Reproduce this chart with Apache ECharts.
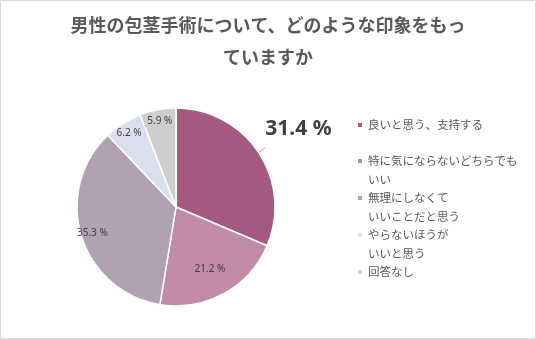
<!DOCTYPE html>
<html>
<head>
<meta charset="utf-8">
<script src="https://cdn.jsdelivr.net/npm/echarts@6/dist/echarts.min.js"></script>
<style>
html,body{margin:0;padding:0;background:#fff;}
#chart{width:536px;height:339px;}
</style>
</head>
<body>
<div id="chart"></div>
<script>
const titleText = '男性の包茎手術について、どのような印象をもっ\nていますか';
const categories = ['良いと思う、支持する', '特に気にならないどちらでも\nいい', '無理にしなくて\nいいことだと思う', 'やらないほうが\nいいと思う', '回答なし'];
const values = [31.4, 21.2, 35.3, 6.2, 5.9];
const colors = ['#A55882', '#C08AA8', '#B2A1B2', '#D9DFEF', '#CFCECF'];

const FONT = '"Noto Sans CJK JP", "Noto Sans", sans-serif';
const LATIN = '"Noto Sans", "Noto Sans CJK JP", sans-serif';
const data = categories.map((n, i) => ({ name: n, value: values[i], itemStyle: { color: colors[i] } }));

const center = [176, 207];
const R = 99;
const legendCenters = [125, 161, 198, 235, 272];
const LH = 18.5;

const legends = categories.map((n, i) => {
  const twoLine = n.indexOf('\n') >= 0;
  return {
    data: [n],
    orient: 'vertical',
    left: 356,
    top: legendCenters[i] - (twoLine ? LH * 1.5 : LH / 2),
    padding: 0,
    itemWidth: 6,
    itemHeight: 6,
    icon: 'rect',
    selectedMode: false,
    formatter: name => (name.indexOf('\n') >= 0 ? '\n' + name : name),
    textStyle: { fontFamily: FONT, fontSize: 11.5, color: '#595959', lineHeight: LH }
  };
});

function ringData(showIdx) {
  return categories.map((n, i) => ({
    name: n, value: values[i],
    itemStyle: { color: 'rgba(0,0,0,0)', borderWidth: 0 },
    label: { show: showIdx.indexOf(i) >= 0 }
  }));
}
const ringLabel = { position: 'inside', formatter: '{c} %', fontFamily: LATIN, fontSize: 10, color: '#404040' };

const option = {
  animation: false,
  title: {
    text: titleText,
    left: 'center',
    top: 9,
    padding: 0,
    textStyle: { fontFamily: FONT, fontSize: 18, fontWeight: 'bold', color: '#595959', lineHeight: 32, align: 'center' }
  },
  legend: legends,
  graphic: [{
    type: 'rect', silent: true, z: -1,
    shape: { x: 0.5, y: 0.5, width: 535, height: 338 },
    style: { fill: 'none', stroke: '#d9d9d9', lineWidth: 1 }
  }],
  series: [
    {
      type: 'pie', center: center, radius: R, startAngle: 90, clockwise: true,
      data: data.map((d, i) => Object.assign({}, d, { label: { show: i === 0 }, labelLine: { show: i === 0 } })),
      itemStyle: { borderColor: '#fff', borderWidth: 1.5 },
      label: { position: 'outside', formatter: '{c} %', fontFamily: LATIN, fontSize: 21, fontWeight: 'bold', color: '#404040' },
      labelLine: { length: 8, length2: 0, lineStyle: { color: '#A6A6A6', width: 1 } },
      labelLayout: function (p) { return p.dataIndex === 0 ? { dx: -5, dy: -19 } : {}; },
      emphasis: { disabled: true }
    },
    {
      type: 'pie', center: center, radius: [70, R], startAngle: 90, silent: true,
      data: ringData([2, 3, 4]), label: ringLabel, labelLine: { show: false }, emphasis: { disabled: true }
    },
    {
      type: 'pie', center: center, radius: [36, R], startAngle: 90, silent: true,
      data: ringData([1]), label: ringLabel, labelLine: { show: false }, emphasis: { disabled: true }
    }
  ]
};
const chart = echarts.init(document.getElementById('chart'), null, { renderer: 'canvas' });
chart.setOption(option);
</script>
</body>
</html>
